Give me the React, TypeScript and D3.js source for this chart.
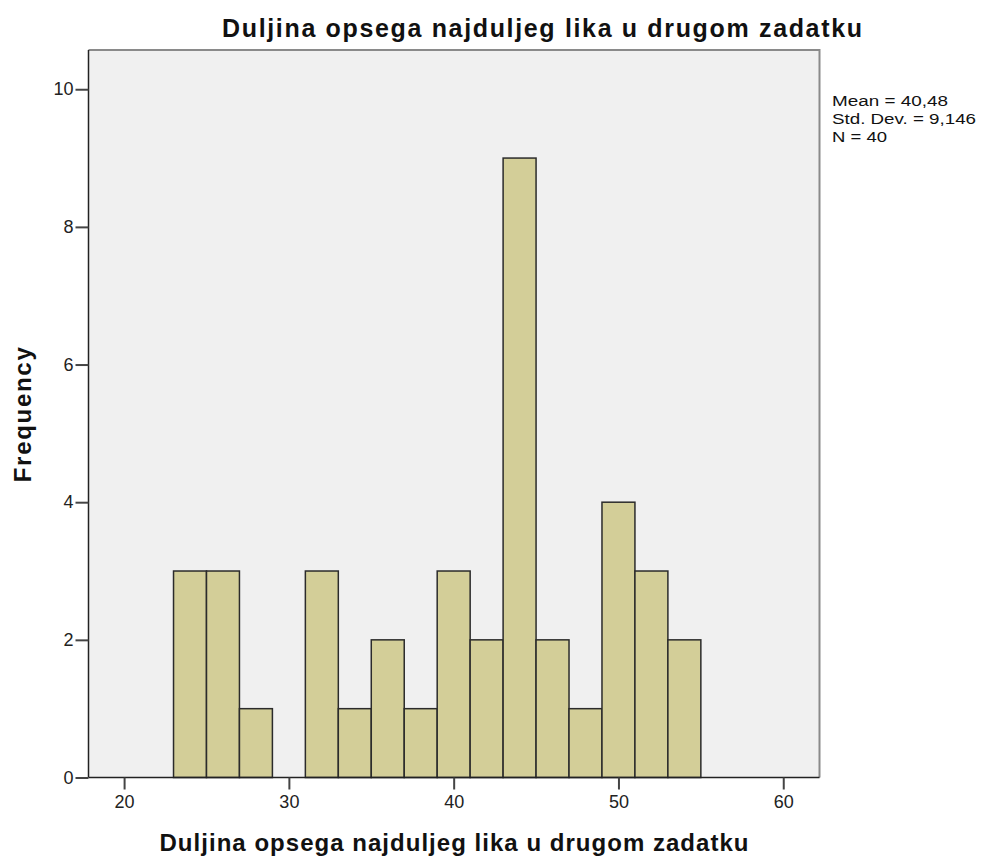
import React, { useEffect, useRef } from 'react';
import * as d3 from 'd3';

// histogram bins (lower edge) and counts
const binStarts = [23, 25, 27, 29, 31, 33, 35, 37, 39, 41, 43, 45, 47, 49, 51, 53];
const counts = [3, 3, 1, 0, 3, 1, 2, 1, 3, 2, 9, 2, 1, 4, 3, 2];
const binWidth = 2;
const xTicks = [20, 30, 40, 50, 60];
const yTicks = [0, 2, 4, 6, 8, 10];
const statsLines = ['Mean = 40,48', 'Std. Dev. = 9,146', 'N = 40'];
const title = 'Duljina opsega najduljeg lika u drugom zadatku';

const W = 981;
const H = 856;
const left = 88.5;
const right = 819.5;
const top = 50;
const bottom = 777.5;
const font = 'Liberation Sans, Arial, sans-serif';
const statsWidths = [116, 144, 55];

const App = () => {
  const svgRef = useRef<SVGSVGElement>(null);

  useEffect(() => {
    const svg = d3.select(svgRef.current);
    svg.selectAll('*').remove();

    const x = d3.scaleLinear().domain([17.84, 62.2]).range([left, right]);
    const y = d3.scaleLinear().domain([0, 10.57]).range([bottom, top]);

    // plot background and frame
    svg.append('rect')
      .attr('x', left).attr('y', top)
      .attr('width', right - left).attr('height', bottom - top)
      .attr('fill', '#f0f0f0');
    svg.append('path')
      .attr('d', `M${left},${top}H${right}V${bottom}`)
      .attr('fill', 'none').attr('stroke', '#8a8a8a').attr('stroke-width', 2);

    // bars
    svg.selectAll('.bar')
      .data(binStarts.map((s, i) => ({ s, c: counts[i] })).filter(d => d.c > 0))
      .join('rect')
      .attr('class', 'bar')
      .attr('x', d => x(d.s))
      .attr('y', d => y(d.c))
      .attr('width', d => x(d.s + binWidth) - x(d.s))
      .attr('height', d => y(0) - y(d.c))
      .attr('fill', '#d3ce98')
      .attr('stroke', '#2b2b2b')
      .attr('stroke-width', 1.5);

    // axes
    const xAxis = d3.axisBottom(x).tickValues(xTicks).tickSize(12).tickSizeOuter(0).tickPadding(6);
    const gx = svg.append('g').attr('transform', `translate(0,${bottom})`).call(xAxis);
    gx.select('.domain').attr('d', `M${left},0H${right}`).attr('stroke', '#222').attr('stroke-width', 1.5);
    gx.selectAll('.tick line').attr('stroke', '#444').attr('stroke-width', 2);
    gx.selectAll('.tick text').attr('font-size', 18).attr('fill', '#222').attr('font-family', font);

    const yAxis = d3.axisLeft(y).tickValues(yTicks).tickSize(13).tickSizeOuter(0).tickPadding(2);
    const gy = svg.append('g').attr('transform', `translate(${left},0)`).call(yAxis);
    gy.select('.domain').attr('d', `M0,${top}V${bottom}`).attr('stroke', '#222').attr('stroke-width', 1.5);
    gy.selectAll('.tick line').attr('stroke', '#444').attr('stroke-width', 2);
    gy.selectAll('.tick text').attr('font-size', 18).attr('fill', '#222').attr('font-family', font);

    // titles
    svg.append('text')
      .attr('x', 542).attr('y', 37)
      .attr('text-anchor', 'middle')
      .attr('font-family', font)
      .attr('font-weight', 'bold').attr('font-size', 25)
      .attr('textLength', 640).attr('lengthAdjust', 'spacing')
      .attr('fill', '#111')
      .text(title);

    svg.append('text')
      .attr('x', 454).attr('y', 851)
      .attr('text-anchor', 'middle')
      .attr('font-family', font)
      .attr('font-weight', 'bold').attr('font-size', 24)
      .attr('textLength', 589).attr('lengthAdjust', 'spacing')
      .attr('fill', '#111')
      .text(title);

    svg.append('text')
      .attr('transform', `translate(31,${(top + bottom) / 2 + 1}) rotate(-90)`)
      .attr('text-anchor', 'middle')
      .attr('font-family', font)
      .attr('font-weight', 'bold').attr('font-size', 24)
      .attr('textLength', 135).attr('lengthAdjust', 'spacing')
      .attr('fill', '#111')
      .text('Frequency');

    // stats box
    svg.append('g')
      .selectAll('text')
      .data(statsLines)
      .join('text')
      .attr('x', 832)
      .attr('y', (d, i) => 106 + i * 18)
      .attr('font-family', font)
      .attr('font-size', 15.5)
      .attr('textLength', (d, i) => statsWidths[i])
      .attr('lengthAdjust', 'spacingAndGlyphs')
      .attr('fill', '#111')
      .text(d => d);
  }, []);

  return (
    <svg ref={svgRef} width={W} height={H} style={{ position: 'absolute', left: 0, top: 0, background: '#fff' }} />
  );
};

export default App;
